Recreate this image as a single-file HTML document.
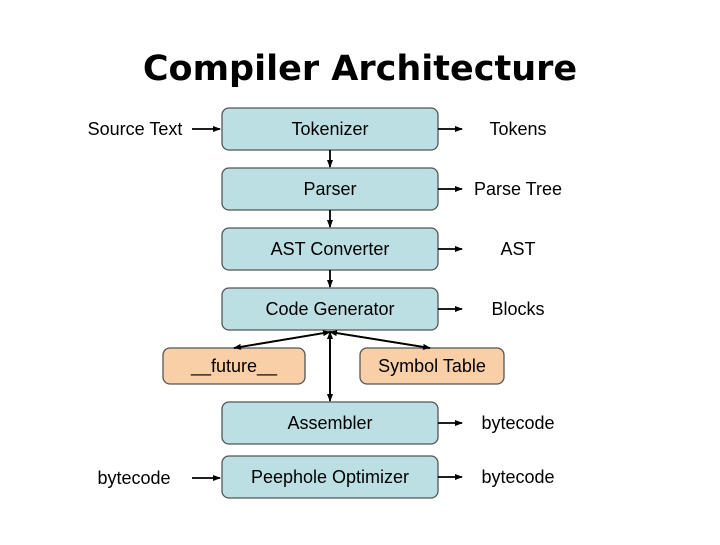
<!DOCTYPE html>
<html><head><style>
body{margin:0;width:720px;height:540px;background:#fff;overflow:hidden;font-family:"Liberation Sans",sans-serif}
</style></head><body>
<svg width="720" height="540" xmlns="http://www.w3.org/2000/svg" font-family="Liberation Sans, sans-serif">
<defs><marker id="a" markerWidth="8" markerHeight="8" refX="7" refY="4" orient="auto" markerUnits="userSpaceOnUse"><path d="M0,1 L8,4 L0,7z" fill="#000"/></marker></defs>
<text x="360" y="80" text-anchor="middle" font-size="35" font-weight="bold" font-family="DejaVu Sans, sans-serif">Compiler Architecture</text>
<g fill="#bcdfe3" stroke="#555" stroke-width="1.3">
<rect x="222" y="108" width="216" height="42" rx="7"/>
<rect x="222" y="168" width="216" height="42" rx="7"/>
<rect x="222" y="228" width="216" height="42" rx="7"/>
<rect x="222" y="288" width="216" height="42" rx="7"/>
<rect x="222" y="402" width="216" height="42" rx="7"/>
<rect x="222" y="456" width="216" height="42" rx="7"/>
</g>
<g fill="#f9cfa8" stroke="#555" stroke-width="1.3">
<rect x="163" y="348" width="142" height="36" rx="7"/>
<rect x="360" y="348" width="144" height="36" rx="7"/>
</g>
<g stroke="#000" stroke-width="1.8" marker-end="url(#a)">
<line x1="192" y1="129" x2="220" y2="129"/>
<line x1="192" y1="478" x2="220" y2="478"/>
<line x1="438" y1="129" x2="462" y2="129"/>
<line x1="438" y1="189" x2="462" y2="189"/>
<line x1="438" y1="249" x2="462" y2="249"/>
<line x1="438" y1="309" x2="462" y2="309"/>
<line x1="438" y1="423" x2="462" y2="423"/>
<line x1="438" y1="477" x2="462" y2="477"/>
<line x1="330" y1="150" x2="330" y2="167"/>
<line x1="330" y1="210" x2="330" y2="227"/>
<line x1="330" y1="270" x2="330" y2="287"/>
<line x1="330" y1="332" x2="330" y2="401"/>
<line x1="330" y1="400" x2="330" y2="332"/>
<line x1="330" y1="332" x2="234" y2="348"/>
<line x1="234" y1="348" x2="330" y2="332"/>
<line x1="330" y1="332" x2="430" y2="348"/>
<line x1="430" y1="348" x2="330" y2="332"/>
</g>
<g font-size="18" text-anchor="middle">
<text x="330" y="135">Tokenizer</text>
<text x="330" y="195">Parser</text>
<text x="330" y="255">AST Converter</text>
<text x="330" y="315">Code Generator</text>
<text x="330" y="429">Assembler</text>
<text x="330" y="483">Peephole Optimizer</text>
<text x="234" y="372">__future__</text>
<text x="432" y="372">Symbol Table</text>
<text x="135" y="135">Source Text</text>
<text x="134" y="484">bytecode</text>
<text x="518" y="135">Tokens</text>
<text x="518" y="195">Parse Tree</text>
<text x="518" y="255">AST</text>
<text x="518" y="315">Blocks</text>
<text x="518" y="429">bytecode</text>
<text x="518" y="483">bytecode</text>
</g>
</svg>
</body></html>
